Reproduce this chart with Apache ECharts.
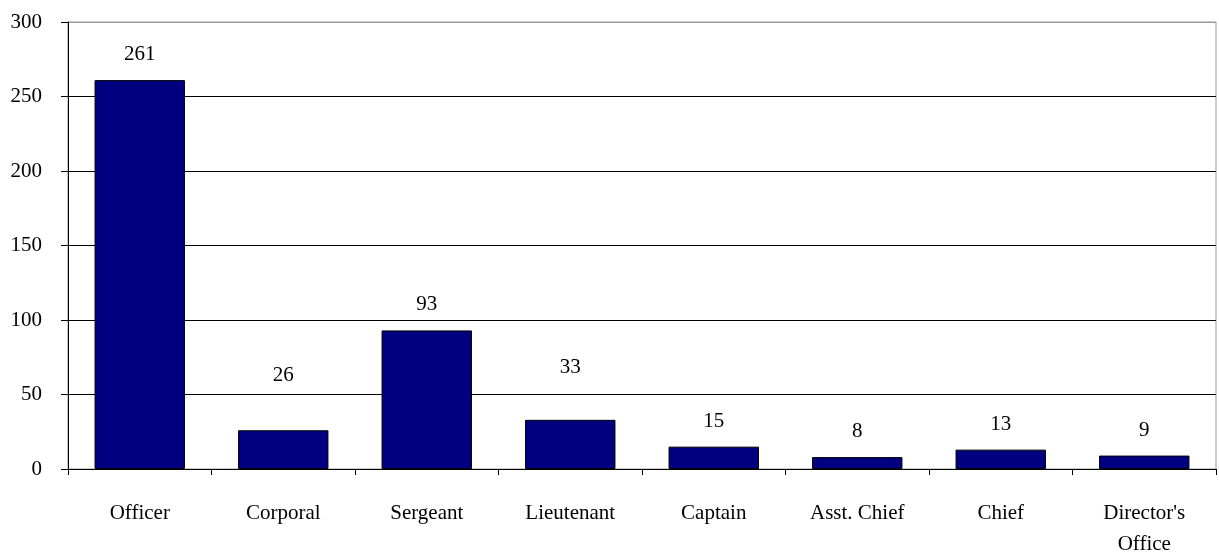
<!DOCTYPE html>
<html>
<head>
<meta charset="utf-8">
<script src="https://cdn.jsdelivr.net/npm/echarts@6/dist/echarts.min.js"></script>
<style>html,body{margin:0;padding:0;background:#fff}#c{width:1219px;height:553px}</style>
</head>
<body>
<div id="c"></div>
<script>
const categories = ['Officer', 'Corporal', 'Sergeant', 'Lieutenant', 'Captain', 'Asst. Chief', 'Chief', "Director's\nOffice"];
const values = [261, 26, 93, 33, 15, 8, 13, 9];
const yTicks = [0, 50, 100, 150, 200, 250, 300];

const raisedLabels = { 1: 44, 3: 42 };
const chart = echarts.init(document.getElementById('c'));
const font = 'Liberation Serif, Times New Roman, serif';
chart.setOption({
  animation: false,
  grid: { left: 68, right: 3, top: 22, bottom: 84, show: true, borderColor: '#999', borderWidth: 1, outerBoundsMode: 'none', containLabel: false },
  xAxis: {
    type: 'category',
    data: categories,
    axisLine: { lineStyle: { color: '#000', width: 1 } },
    axisTick: { show: true, length: 6, lineStyle: { color: '#000' } },
    axisLabel: { color: '#000', fontFamily: font, fontSize: 21, margin: 29, lineHeight: 31, interval: 0 }
  },
  yAxis: {
    type: 'value',
    min: yTicks[0],
    max: yTicks[yTicks.length - 1],
    interval: 50,
    axisLine: { show: true, lineStyle: { color: '#000', width: 1 } },
    axisTick: { show: true, length: 7, lineStyle: { color: '#000' } },
    axisLabel: { color: '#000', fontFamily: font, fontSize: 21, margin: 26 },
    splitLine: { show: true, lineStyle: { color: ['#000', '#000', '#000', '#000', '#000', '#000', '#999'], width: 1 } }
  },
  series: [{
    type: 'bar',
    data: values.map((v, i) => raisedLabels[i] ? { value: v, label: { distance: raisedLabels[i] } } : v),
    barCategoryGap: '37%',
    itemStyle: { color: '#000080', borderColor: '#000', borderWidth: 1 },
    label: { show: true, position: 'top', distance: 15, color: '#000', fontFamily: font, fontSize: 21 }
  }]
});
</script>
</body>
</html>
